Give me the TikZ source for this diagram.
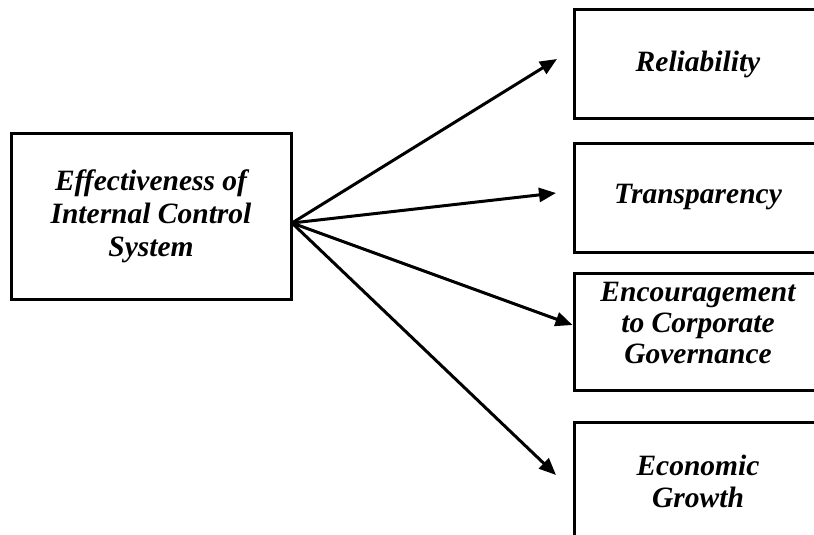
\documentclass[tikz,border=0pt]{standalone}
\usepackage{fontspec}
\setmainfont{Liberation Serif}
\usetikzlibrary{arrows.meta}
\begin{document}
\begin{tikzpicture}[x=1pt,y=-1pt,
  txt/.style={align=center,font=\fontsize{29.5}{33}\selectfont\bfseries\itshape},
  box/.style={txt,draw,line width=3pt,inner sep=0pt},
  arr/.style={line width=3pt,-{Triangle[length=17pt,width=14pt]}}]
\useasboundingbox (0,0) rectangle (814,535);
\clip (0,0) rectangle (814,535);
\node[box,minimum width=280pt,minimum height=166pt] (L) at (151,216) {Effectiveness of\\Internal Control\\System};
\node[box,minimum width=248pt,minimum height=108pt] (R1) at (698,64) {Reliability};
\node[box,minimum width=248pt,minimum height=109pt] (R2) at (698,197.5) {Transparency};
\node[box,minimum width=248pt,minimum height=117pt] (R3) at (698,331.5) {};
\node[txt,font=\fontsize{29.5}{31}\selectfont\bfseries\itshape] (R3t) at (698,323) {Encouragement\\to Corporate\\Governance};
\node[box,minimum width=248pt,minimum height=120pt] (R4) at (698,482) {};
\node[txt,font=\fontsize{29.5}{32}\selectfont\bfseries\itshape] (R4t) at (698,481) {Economic\\Growth};
\coordinate (src) at (292,223);
\coordinate (e1) at (557,59);
\coordinate (e2) at (556,193);
\coordinate (e4) at (556,475);
\draw[arr] (src) -- (e1);
\draw[arr] (src) -- (e2);
\draw[arr] (src) -- (R3.west |- 0,325);
\draw[arr] (src) -- (e4);
\end{tikzpicture}
\end{document}
